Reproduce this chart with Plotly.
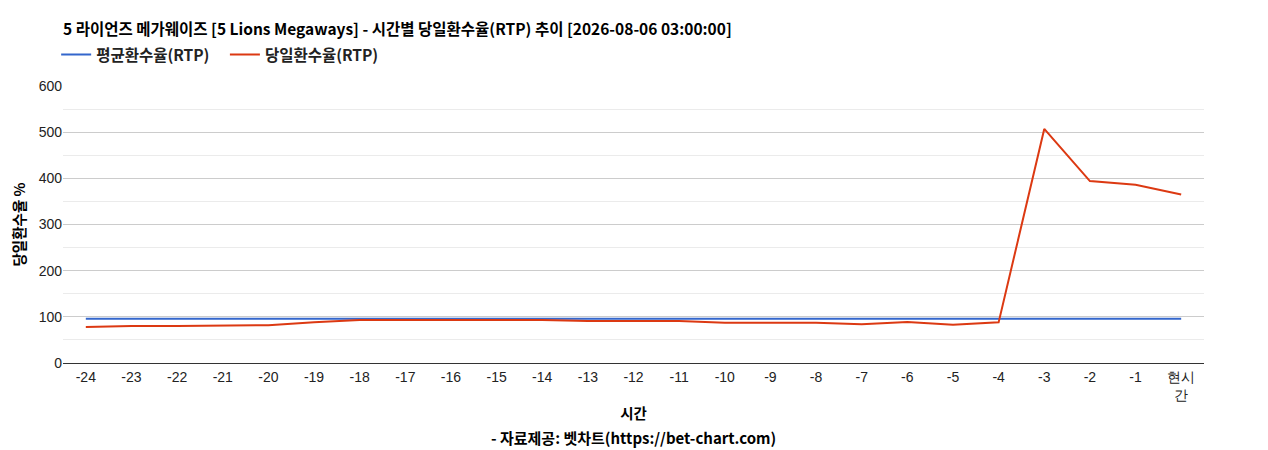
import plotly.graph_objects as go

# hourly labels, -24h .. now
hours = [str(h) for h in range(-24, 0)] + ["현시<br>간"]

# average RTP (flat) and daily RTP per hour
avg_rtp = [96] * 25
daily_rtp = [78, 80, 80, 81, 82, 88, 93, 93, 93, 93, 93, 91, 91, 91,
             87, 87, 87, 84, 89, 83, 88, 507, 394, 386, 365]

title_text = "5 라이언즈 메가웨이즈 [5 Lions Megaways] - 시간별 당일환수율(RTP) 추이 [2026-08-06 03:00:00]"
kr_font = "Noto Sans CJK KR"

fig = go.Figure()
fig.add_trace(go.Scatter(x=hours, y=avg_rtp, name="<b>평균환수율(RTP)</b>&nbsp;&nbsp;&nbsp;", mode="lines",
                         line=dict(color="#3366cc", width=2)))
fig.add_trace(go.Scatter(x=hours, y=daily_rtp, name="<b>당일환수율(RTP)</b>", mode="lines",
                         line=dict(color="#dc3912", width=2)))

# page body has an 8px margin, so the figure is sized/offset to land on the same pixels
fig.update_layout(
    width=1260, height=442,
    paper_bgcolor="white", plot_bgcolor="white",
    margin=dict(l=55, r=64, t=78, b=87, autoexpand=False),
    title=dict(text="<b>" + title_text + "</b>", x=0, xref="paper", xanchor="left",
               y=1 - 22 / 442, yref="container", yanchor="middle",
               font=dict(family=kr_font, size=15.5, color="#000")),
    showlegend=True,
    legend=dict(orientation="h", x=-0.006, xanchor="left", y=1.112, yanchor="middle",
                font=dict(family=kr_font, size=15.5, color="#222"),
                itemwidth=30, tracegroupgap=0, traceorder="normal"),
    font=dict(family="Liberation Sans, Arial", size=14, color="#222"),
    hovermode=False,
)

fig.update_xaxes(
    type="category", range=[-0.5, 24.5], showgrid=False,
    showline=True, linecolor="#333", linewidth=1,
    ticks="", ticklabelstandoff=1, tickfont=dict(size=14, color="#222"),
    title=dict(text="<b>시간</b>", font=dict(family=kr_font, size=14.5, color="#000"), standoff=6),
)
fig.update_yaxes(
    range=[0, 600], dtick=100, showgrid=True, gridcolor="#cccccc", gridwidth=1,
    minor=dict(dtick=50, showgrid=True, gridcolor="#ebebeb"),
    zeroline=False, showline=False, ticks="",
    tickfont=dict(size=14, color="#222"),
    title=dict(text="<b>당일환수율 %</b>", font=dict(family=kr_font, size=14.5, color="#000"), standoff=14),
)

fig.add_annotation(text="<b>- 자료제공: 벳차트(https://bet-chart.com)</b>",
                   xref="paper", yref="paper", x=0.5, y=-(437 - 363) / 277,
                   xanchor="center", yanchor="middle", showarrow=False,
                   font=dict(family=kr_font, size=15, color="#000"))

fig.write_html("out.html")
